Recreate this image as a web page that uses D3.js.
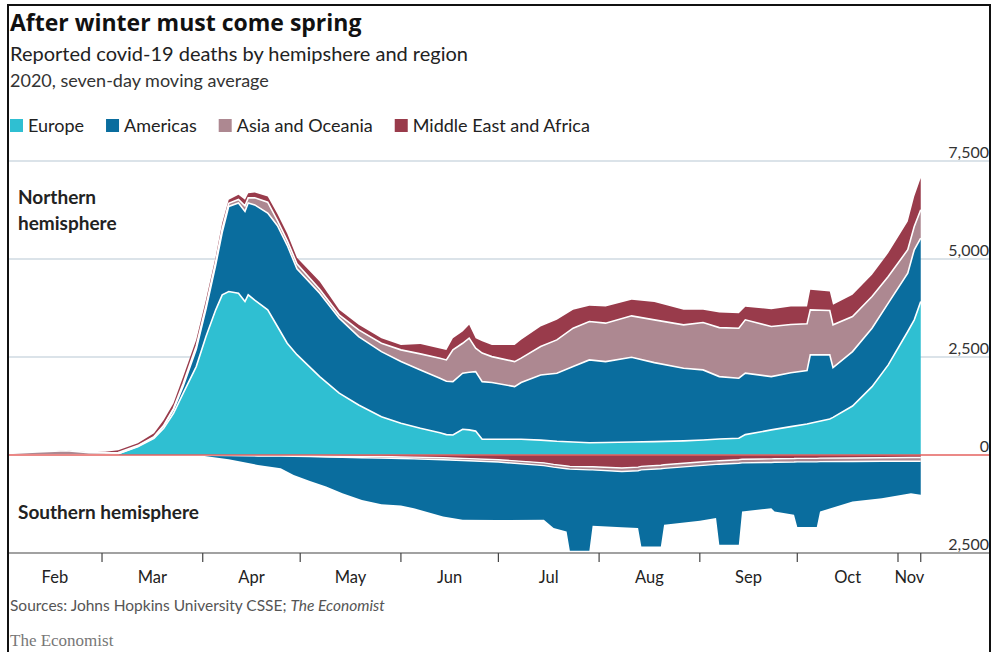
<!DOCTYPE html>
<html>
<head>
<meta charset="utf-8">
<script src="https://cdn.jsdelivr.net/npm/d3@7"></script>
<style>
  body { margin: 0; background: #fff; }
  svg text { font-family: Lato, "Open Sans", sans-serif; }
</style>
</head>
<body>
<svg id="chart" width="1002" height="652"></svg>
<script>
// northern hemisphere, seven-day average deaths per region
var northDates = ['2020-02-01','2020-02-10','2020-02-19','2020-02-26','2020-03-02','2020-03-06',
  '2020-03-12','2020-03-17','2020-03-20','2020-03-23','2020-03-26','2020-03-30','2020-04-02',
  '2020-04-05','2020-04-07','2020-04-09','2020-04-12','2020-04-14','2020-04-15','2020-04-17',
  '2020-04-21','2020-04-24','2020-04-27','2020-04-30','2020-05-07','2020-05-13','2020-05-19',
  '2020-05-26','2020-06-01','2020-06-07','2020-06-13','2020-06-15','2020-06-17','2020-06-20',
  '2020-06-22','2020-06-24','2020-06-26','2020-06-29','2020-07-06','2020-07-08','2020-07-14',
  '2020-07-19','2020-07-24','2020-07-29','2020-08-03','2020-08-11','2020-08-18','2020-08-27',
  '2020-09-02','2020-09-07','2020-09-13','2020-09-15','2020-09-23','2020-09-29','2020-10-04',
  '2020-10-05','2020-10-11','2020-10-12','2020-10-18','2020-10-24','2020-10-29','2020-11-04',
  '2020-11-06','2020-11-08'];
var northEurope = [0,0,0,2,8,30,212,426,682,1065,1576,2255,3021,3703,4086,4170,4129,3916,4086,
  3950,3703,3278,2852,2560,2000,1576,1277,978,810,682,570,520,511,656,640,610,401,401,401,401,
  380,350,330,314,320,330,340,360,383,410,426,520,640,723,790,810,920,960,1250,1744,2299,3150,
  3448,3916];
var northAmericas = [0,0,0,0,1,2,8,24,58,95,184,445,699,1147,1594,2172,2299,2298,2342,2430,2469,
  2572,2498,2190,2129,1914,1744,1660,1573,1489,1389,1360,1361,1431,1470,1518,1471,1449,1343,
  1449,1663,1737,1925,2112,2063,2165,2017,1854,1788,1590,1533,1567,1360,1377,1364,1744,1634,
  1270,1388,1491,1575,1490,1788,1618];
var northAsia = [40,75,110,58,46,33,20,20,20,30,70,80,90,90,100,78,92,140,132,180,278,130,120,
  130,100,86,172,214,299,409,511,546,810,763,870,597,728,660,639,620,723,850,980,979,980,1055,
  1091,1106,1209,1250,1276,1361,1278,1230,1192,1149,1132,1090,895,809,680,596,595,723];
var northMidEastAfrica = [0,0,2,10,30,55,60,84,134,130,170,157,149,125,138,93,120,159,120,139,
  147,170,180,150,197,127,127,128,127,250,250,254,298,300,340,255,300,299,426,467,512,511,468,
  400,425,409,452,383,323,385,383,332,442,458,442,511,485,511,553,553,597,722,766,810];

// southern hemisphere
var southDates = ['2020-03-25','2020-04-01','2020-04-09','2020-04-18','2020-04-25','2020-04-29',
  '2020-05-04','2020-05-09','2020-05-14','2020-05-20','2020-05-26','2020-06-01','2020-06-05',
  '2020-06-14','2020-06-20','2020-07-01','2020-07-15','2020-07-18','2020-07-22','2020-07-23',
  '2020-07-29','2020-07-30','2020-08-08','2020-08-13','2020-08-14','2020-08-20','2020-08-21',
  '2020-09-01','2020-09-06','2020-09-07','2020-09-13','2020-09-14','2020-09-23','2020-09-24',
  '2020-09-30','2020-10-01','2020-10-07','2020-10-08','2020-10-18','2020-10-27','2020-11-05',
  '2020-11-08'];
var southMidEastAfrica = [0,0,5,12,13,16,20,25,30,35,40,50,55,70,85,120,200,240,280,290,300,300,
  330,310,290,260,250,180,150,145,120,110,100,95,90,85,85,80,75,70,65,65];
var southAsia = [0,5,10,12,15,18,20,25,30,35,40,40,45,50,55,60,70,70,70,70,80,80,90,90,90,90,90,
  90,90,90,90,90,90,90,90,90,90,90,90,90,95,95];
var southAmericas = [0,15,95,230,310,475,622,756,916,1076,1174,1200,1256,1448,1513,1480,1383,1555,
  1600,2080,2060,1426,1420,1465,1952,1982,1440,1410,1370,2054,2079,1241,1166,1256,1346,1664,1664,
  1271,1022,942,815,857];

var regions = ['Europe', 'Americas', 'Asia and Oceania', 'Middle East and Africa'];
var regionColors = ['#2fbfd2', '#0a6d9e', '#ad8891', '#993b4b'];
var yTicks = [7500, 5000, 2500, 0, -2500];
var monthNames = ['Feb','Mar','Apr','May','Jun','Jul','Aug','Sep','Oct','Nov'];

var svg = d3.select('#chart');
var parse = d3.utcParse('%Y-%m-%d');
var fmt = d3.format(',');

var x = d3.scaleUtc()
  .domain([parse('2020-02-01'), parse('2020-11-01')])
  .range([7.8, 898]);
var y = d3.scaleLinear().domain([-2500, 7500]).range([553, 161]);

var colorOf = {};
regions.forEach(function(r, i) { colorOf[r] = regionColors[i]; });

// rows for the stacks
var northRows = northDates.map(function(d, i) {
  return { date: parse(d), 'Europe': northEurope[i], 'Americas': northAmericas[i],
    'Asia and Oceania': northAsia[i], 'Middle East and Africa': northMidEastAfrica[i] };
});
var southRows = southDates.map(function(d, i) {
  return { date: parse(d), 'Middle East and Africa': southMidEastAfrica[i],
    'Asia and Oceania': southAsia[i], 'Americas': southAmericas[i] };
});

var northStack = d3.stack().keys(regions)(northRows);
var southStack = d3.stack().keys(['Middle East and Africa', 'Asia and Oceania', 'Americas'])(southRows);

// titles
svg.append('text').attr('x', 10).attr('y', 31)
  .style('font-family', '"Open Sans", Lato, sans-serif')
  .style('font-size', '23px').style('font-weight', 'bold').attr('fill', '#111')
  .text('After winter must come spring');
svg.append('text').attr('x', 10).attr('y', 61)
  .style('font-size', '20px').attr('fill', '#222')
  .text('Reported covid-19 deaths by hemipshere and region');
svg.append('text').attr('x', 10).attr('y', 87)
  .style('font-size', '18px').attr('fill', '#333')
  .text('2020, seven-day moving average');

// legend
var lx = 10;
regions.forEach(function(r) {
  svg.append('rect').attr('x', lx).attr('y', 119).attr('width', 13).attr('height', 13)
    .attr('fill', colorOf[r]);
  var t = svg.append('text').attr('x', lx + 18).attr('y', 132)
    .style('font-size', '18px').attr('fill', '#222').text(r);
  lx = lx + 18 + t.node().getComputedTextLength() + 22;
});

// gridlines and y labels
yTicks.forEach(function(v) {
  if (v !== 0 && v !== -2500) {
    svg.append('line').attr('x1', 9).attr('x2', 989)
      .attr('y1', y(v)).attr('y2', y(v))
      .attr('stroke', '#b8c8d4').attr('stroke-width', 1.2);
  }
  svg.append('text').attr('x', 989).attr('y', y(v) - 3)
    .attr('text-anchor', 'end').style('font-size', '16px').attr('fill', '#333')
    .text(fmt(Math.abs(v)));
});

svg.append('clipPath').attr('id', 'plotclip')
  .append('rect').attr('x', 0).attr('y', 150).attr('width', 1002).attr('height', 403);

var plot = svg.append('g').attr('clip-path', 'url(#plotclip)');

var areaN = d3.area()
  .x(function(d) { return x(d.data.date); })
  .y0(function(d) { return y(d[0]); })
  .y1(function(d) { return y(d[1]); });
var lineN = d3.line()
  .x(function(d) { return x(d.data.date); })
  .y(function(d) { return y(d[1]); });
var areaS = d3.area()
  .x(function(d) { return x(d.data.date); })
  .y0(function(d) { return y(-d[0]); })
  .y1(function(d) { return y(-d[1]); });
var lineS = d3.line()
  .x(function(d) { return x(d.data.date); })
  .y(function(d) { return y(-d[1]); });

plot.selectAll('.south').data(southStack).enter().append('path')
  .attr('class', 'south').attr('d', areaS)
  .attr('fill', function(s) { return colorOf[s.key]; });
plot.selectAll('.south-line').data(southStack.slice(0, 2)).enter().append('path')
  .attr('class', 'south-line').attr('d', lineS)
  .attr('fill', 'none').attr('stroke', '#fff').attr('stroke-width', 1.4);

plot.selectAll('.north').data(northStack).enter().append('path')
  .attr('class', 'north').attr('d', areaN)
  .attr('fill', function(s) { return colorOf[s.key]; });
plot.selectAll('.north-line').data(northStack.slice(0, 3)).enter().append('path')
  .attr('class', 'north-line').attr('d', lineN)
  .attr('fill', 'none').attr('stroke', '#fff').attr('stroke-width', 1.6);

// zero line
svg.append('line').attr('x1', 9).attr('x2', 989)
  .attr('y1', y(0)).attr('y2', y(0))
  .attr('stroke', '#e5625f').attr('stroke-width', 1.5);

// x axis
var endDate = parse(northDates[northDates.length - 1]);
var tickDates = d3.utcMonth.range(parse('2020-02-01'), parse('2020-11-02'));
tickDates.push(endDate);
svg.append('line').attr('x1', 9).attr('x2', 989)
  .attr('y1', 553).attr('y2', 553).attr('stroke', '#444').attr('stroke-width', 1.2);
svg.selectAll('.xtick').data(tickDates).enter().append('line')
  .attr('class', 'xtick')
  .attr('x1', function(d) { return x(d); }).attr('x2', function(d) { return x(d); })
  .attr('y1', 553).attr('y2', 562).attr('stroke', '#444').attr('stroke-width', 1.2);
svg.selectAll('.xlabel').data(monthNames).enter().append('text')
  .attr('class', 'xlabel')
  .attr('x', function(m, i) { return (x(tickDates[i]) + x(tickDates[i + 1])) / 2; })
  .attr('y', 583).attr('text-anchor', 'middle')
  .style('font-size', '16.5px').attr('fill', '#222')
  .text(function(m) { return m; });

// hemisphere labels
svg.append('text').attr('x', 18).attr('y', 204)
  .style('font-size', '19px').style('font-weight', 'bold').attr('fill', '#222')
  .text('Northern');
svg.append('text').attr('x', 18).attr('y', 230)
  .style('font-size', '19px').style('font-weight', 'bold').attr('fill', '#222')
  .text('hemisphere');
svg.append('text').attr('x', 18).attr('y', 519)
  .style('font-size', '19px').style('font-weight', 'bold').attr('fill', '#222')
  .text('Southern hemisphere');

// footer
var src = svg.append('text').attr('x', 10).attr('y', 611)
  .style('font-size', '15.5px').attr('fill', '#555');
src.append('tspan').text('Sources: Johns Hopkins University CSSE; ');
src.append('tspan').style('font-style', 'italic').text('The Economist');
svg.append('text').attr('x', 10).attr('y', 646)
  .style('font-family', '"Liberation Serif", "DejaVu Serif", serif')
  .style('font-size', '17px').attr('fill', '#777')
  .text('The Economist');

// frame
svg.append('rect').attr('x', 8).attr('y', 5).attr('width', 982).attr('height', 660)
  .attr('fill', 'none').attr('stroke', '#111').attr('stroke-width', 2);
</script>
</body>
</html>
